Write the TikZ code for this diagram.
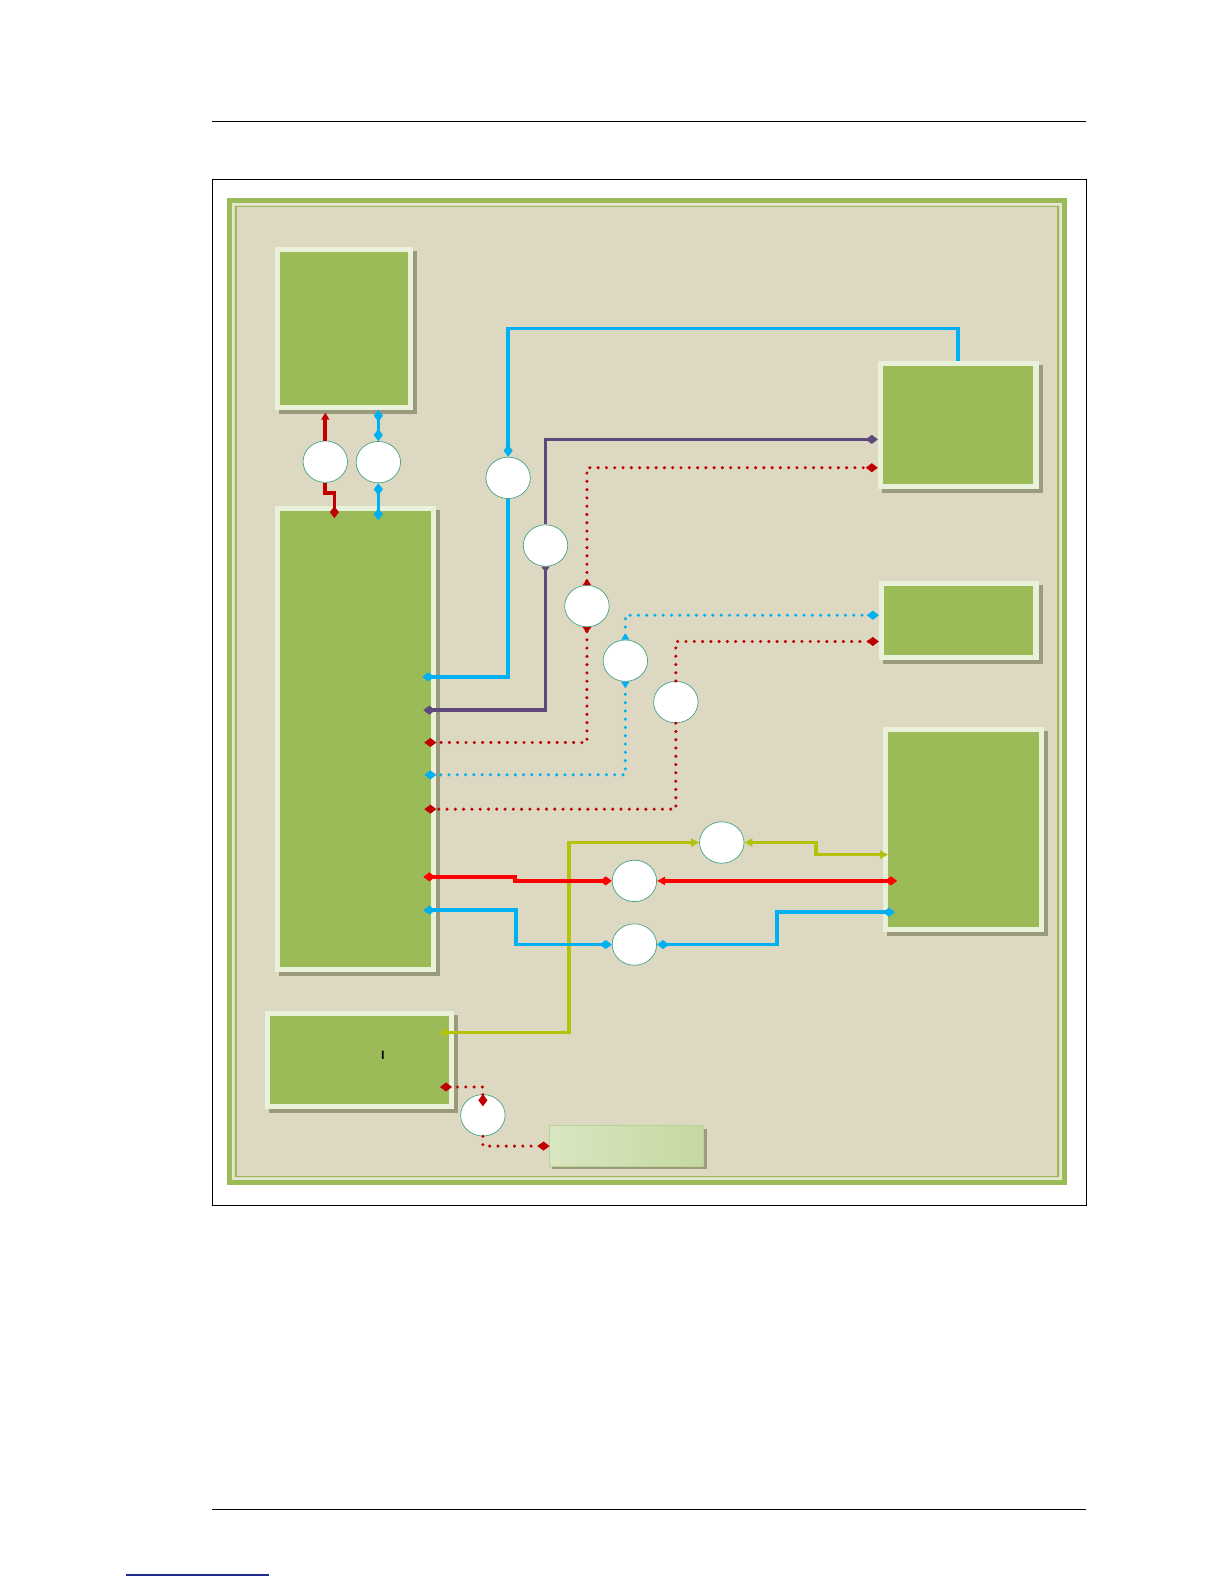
\documentclass[tikz,border=0pt]{standalone}
\usepackage{tikz}
\usetikzlibrary{arrows.meta, calc, shapes.geometric, shadows}
\definecolor{panel}{HTML}{DDD8C1}
\definecolor{leaf}{HTML}{9BBB59}
\definecolor{paleedge}{HTML}{EAF1DA}
\definecolor{shadowc}{HTML}{9B9A7C}
\definecolor{skyb}{HTML}{00B0F0}
\definecolor{purp}{HTML}{5F497A}
\definecolor{dred}{HTML}{C00000}
\definecolor{hred}{HTML}{FF0000}
\definecolor{limeg}{HTML}{B4C10D}
\definecolor{ringc}{HTML}{48A386}
\definecolor{linkb}{HTML}{1F2C8C}
\definecolor{tagl}{HTML}{D9E6C2}
\definecolor{tagm}{HTML}{EEF4E3}
\definecolor{tagr}{HTML}{C5D8A0}
\tikzset{dmd/.tip={Diamond[length=12pt,width=9pt]},
  trg/.tip={Triangle[length=8pt,width=8pt]},
  rtrg/.tip={Triangle[reversed,length=6pt,width=8pt]}}

\begin{document}
\begin{tikzpicture}[x=1pt, y=-1pt,
      blk/.style={draw=paleedge, line width=5pt, fill=leaf, inner sep=0pt,
        general shadow={fill=shadowc, draw=shadowc, line width=5pt, shadow xshift=4pt, shadow yshift=-4pt}},
      tagbox/.style={draw=tagr!80!leaf, line width=1pt, left color=tagl, middle color=tagm, right color=tagr,
        minimum width=153pt, minimum height=40pt, inner sep=0pt,
        general shadow={fill=shadowc, shadow xshift=3pt, shadow yshift=-3pt}},
      ring/.style={ellipse, draw=ringc, line width=0.7pt, fill=white, minimum width=44pt, minimum height=41pt, inner sep=0pt},
      wire/.style={line width=3.6pt},
      dots/.style={line width=3.4pt, line cap=round, dash pattern=on 0pt off 8.2pt}]
  \useasboundingbox (0,0) rectangle (1212,1568);
  % page rules
  \draw[line width=1.3pt] (210,120) -- (1075,120);
  \draw[line width=1.3pt] (210,1494) -- (1075,1494);
  \draw[linkb, line width=1.3pt] (125,1559) -- (266,1559);
  \draw[line width=0.8pt] (210,178) rectangle (1075,1193);
  % panel
  \fill[panel] (225,196) rectangle (1056,1173);
  \draw[leaf, line width=5pt] (227.5,198.5) rectangle (1053.5,1170.5);
  \draw[paleedge!60!panel, line width=2pt] (231,202) rectangle (1050,1167);
  \draw[leaf, line width=1.6pt] (233.5,204.5) rectangle (1047.5,1164.5);
  % blocks
  \node[blk, minimum width=132pt, minimum height=156pt] (mem) at (340.5,325) {};
  \node[blk, minimum width=155pt, minimum height=456pt] (core) at (352,731.5) {};
  \node[blk, minimum width=154pt, minimum height=122pt] (ext) at (948.5,420.5) {};
  \node[blk, minimum width=153pt, minimum height=73pt] (aux) at (949,614) {};
  \node[blk, minimum width=154pt, minimum height=198pt] (io) at (953.5,821.5) {};
  \node[blk, minimum width=182pt, minimum height=92pt] (ctl) at (356,1049.5) {};
  \node[tagbox] (tag) at (620,1134.5) {};
  \node[font=\sffamily\bfseries\fontsize{12}{12}\selectfont, inner sep=0pt] (mark) at (379,1045) {I};
  % ports
  \foreach \n/\x/\y in {1/322/457, 2/374.5/457.5, 3/503/473, 4/540/540, 5/581/600, 6/619/654,
                        7/669/695, 8/714.5/834, 9/628/872, 10/628/935, 11/478/1104}
    \node[ring] (p\n) at (\x,\y) {};
  % links
  \draw[wire, dred, -{Triangle[length=7pt,width=8pt]}] (p1.north) -- ([yshift=-3pt]p1.north |- mem.south);
  \draw[wire, dred, -dmd] (p1.south) -- ++(0,10) -| ([xshift=9pt,yshift=-12pt]p1.south |- core.north);
  \draw[wire, skyb, dmd-dmd] (p2.north) -- (p2.north |- mem.south);
  \draw[wire, skyb, dmd-dmd] (p2.south) -- ([yshift=-14pt]p2.south |- core.north);
  \draw[wire, skyb, -dmd] (ext.north) -- ++(0,-32) -| (p3.north);
  \draw[wire, skyb, -dmd] (p3.south) |- ([xshift=-14pt]core.east |- 0,670);
  \draw[wire, purp, -dmd] (p4.north) |- (ext.west |- 0,435);
  \draw[wire, purp, rtrg-dmd] (p4.south) |- ([xshift=-13pt]core.east |- 0,703);
  \draw[dots, dred, rtrg-dmd] (p5.north) |- (ext.west |- 0,463);
  \draw[dots, dred, rtrg-dmd] (p5.south) |- ([xshift=-12pt]core.east |- 0,735);
  \draw[dots, skyb, rtrg-dmd] (p6.north) |- (aux.west |- 0,609);
  \draw[dots, skyb, rtrg-dmd] (p6.south) |- ([xshift=-12pt]core.east |- 0,767);
  \draw[dots, dred, -dmd] (p7.north) |- (aux.west |- 0,635);
  \draw[dots, dred, -dmd] (p7.south) |- ([xshift=-12pt]core.east |- 0,801);
  \draw[wire, limeg, trg-trg] ([xshift=-15pt]ctl.east |- 0,1022) -| (563,0 |- p8.west) -- (p8.west);
  \draw[wire, limeg, trg-trg] (p8.east) -| (808,846) -- ([xshift=5pt]io.west |- 0,846);
  \draw[wire, hred, dmd-dmd] ([xshift=-13pt]core.east |- 0,868) -| (510,0 |- p9.west) -- (p9.west);
  \draw[wire, hred, trg-dmd] (p9.east) -- ([xshift=14pt]io.west |- p9.east);
  \draw[wire, skyb, dmd-dmd] ([xshift=-13pt]core.east |- 0,901) -| (511,0 |- p10.west) -- (p10.west);
  \draw[wire, skyb, dmd-dmd] (p10.east) -| (769,903) -- ([xshift=12pt]io.west |- 0,903);
  \draw[dots, dred, dmd-dmd] ([xshift=-14pt]ctl.east |- 0,1076) -| ([yshift=-12pt]p11.north);
  \draw[dots, dred, -dmd] (p11.south) |- ([xshift=1pt]tag.west);
\end{tikzpicture}
\end{document}
